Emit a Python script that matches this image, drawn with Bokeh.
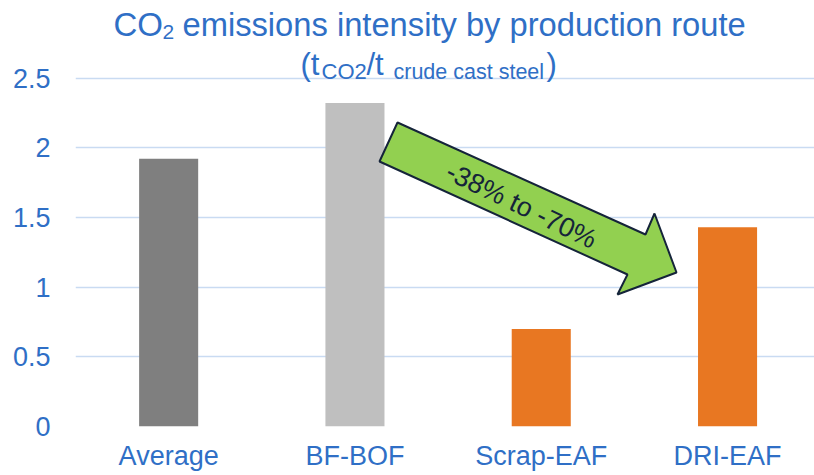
from bokeh.plotting import figure
from bokeh.models import Range1d, FixedTicker
from bokeh.core.properties import value
from bokeh.embed import file_html
from bokeh.resources import INLINE

# ---- data ----
categories = ["Average", "BF-BOF", "Scrap-EAF", "DRI-EAF"]
emissions = [1.92, 2.32, 0.70, 1.43]
bar_colors = ["#7f7f7f", "#bfbfbf", "#e87722", "#e87722"]
y_ticks = [0, 0.5, 1, 1.5, 2, 2.5]
y_tick_labels = ["0", "0.5", "1", "1.5", "2", "2.5"]
arrow_label = "-38% to -70%"

# ---- layout constants ----
W, H = 814, 475
LEFT = 75
BOTTOM_PX = 426
PX_PER_Y = 139.4
PX_PER_X = 186.3
BLUE = "#2f6fc6"
FONT = "Liberation Sans"
TXT_SHIFT = 11  # correction for text baseline placement

def sx(px):
    return (px - LEFT) / PX_PER_X

def sy(py):
    return (BOTTOM_PX - py) / PX_PER_Y

xs = [i + 0.5 for i in range(len(categories))]

p = figure(width=W, height=H, output_backend="svg", toolbar_location=None,
           x_range=Range1d(0, sx(W)), y_range=Range1d(0, sy(0)),
           min_border_left=LEFT, min_border_right=0, min_border_top=0,
           min_border_bottom=H - BOTTOM_PX)
p.outline_line_color = None
p.background_fill_color = "white"
p.border_fill_color = "white"

# grid
p.xgrid.grid_line_color = None
p.ygrid.grid_line_color = "#c9dbf2"
p.ygrid.grid_line_width = 1.5
p.ygrid.ticker = FixedTicker(ticks=y_ticks)

# axes
p.yaxis.ticker = FixedTicker(ticks=y_ticks)
p.yaxis.major_label_overrides = {t: l for t, l in zip(y_ticks, y_tick_labels)}
p.xaxis.ticker = FixedTicker(ticks=xs)
p.xaxis.major_label_overrides = {x: c for x, c in zip(xs, categories)}
for ax in (p.xaxis, p.yaxis):
    ax.axis_line_color = None
    ax.major_tick_line_color = None
    ax.minor_tick_line_color = None
    ax.major_tick_out = 0
    ax.major_tick_in = 0
    ax.major_label_text_color = BLUE
    ax.major_label_text_font = FONT
    ax.major_label_text_font_size = "27px"
p.yaxis.major_label_standoff = 25
p.xaxis.major_label_standoff = 14

# bars
p.vbar(x=xs, top=emissions, width=0.317, bottom=0, color=bar_colors, line_color=None)

# arrow annotation
arrow_px = [(397, 122), (645, 234), (654, 213), (676, 272), (617, 294), (627, 274), (379, 161)]
p.patch([sx(a) for a, b in arrow_px], [sy(b) for a, b in arrow_px],
        fill_color="#92d050", line_color="#15243a", line_width=2)
p.text(x=[sx(521)], y=[sy(205)], text=[arrow_label], angle=-0.45,
       text_align="center", text_baseline="middle", text_color="#15243a",
       text_font=value(FONT), text_font_size="27px")

# title with subscripts
def t(px, py, s, size):
    p.text(x=[sx(px)], y=[sy(py - TXT_SHIFT)], text=[s], text_align="left",
           text_baseline="alphabetic", text_color=BLUE,
           text_font=value(FONT), text_font_size=size)

t(113, 35, "CO", "33px")
t(162, 42, "2", "21px")
t(182, 35, "emissions intensity by production route", "32.7px")
t(300, 75, "(t", "31px")
t(321, 82, "CO2", "22px")
t(366, 75, "/t", "31px")
t(393, 82, "crude cast steel", "21.5px")
t(546, 75, ")", "31px")

open("out.html", "w").write(file_html(p, INLINE))
